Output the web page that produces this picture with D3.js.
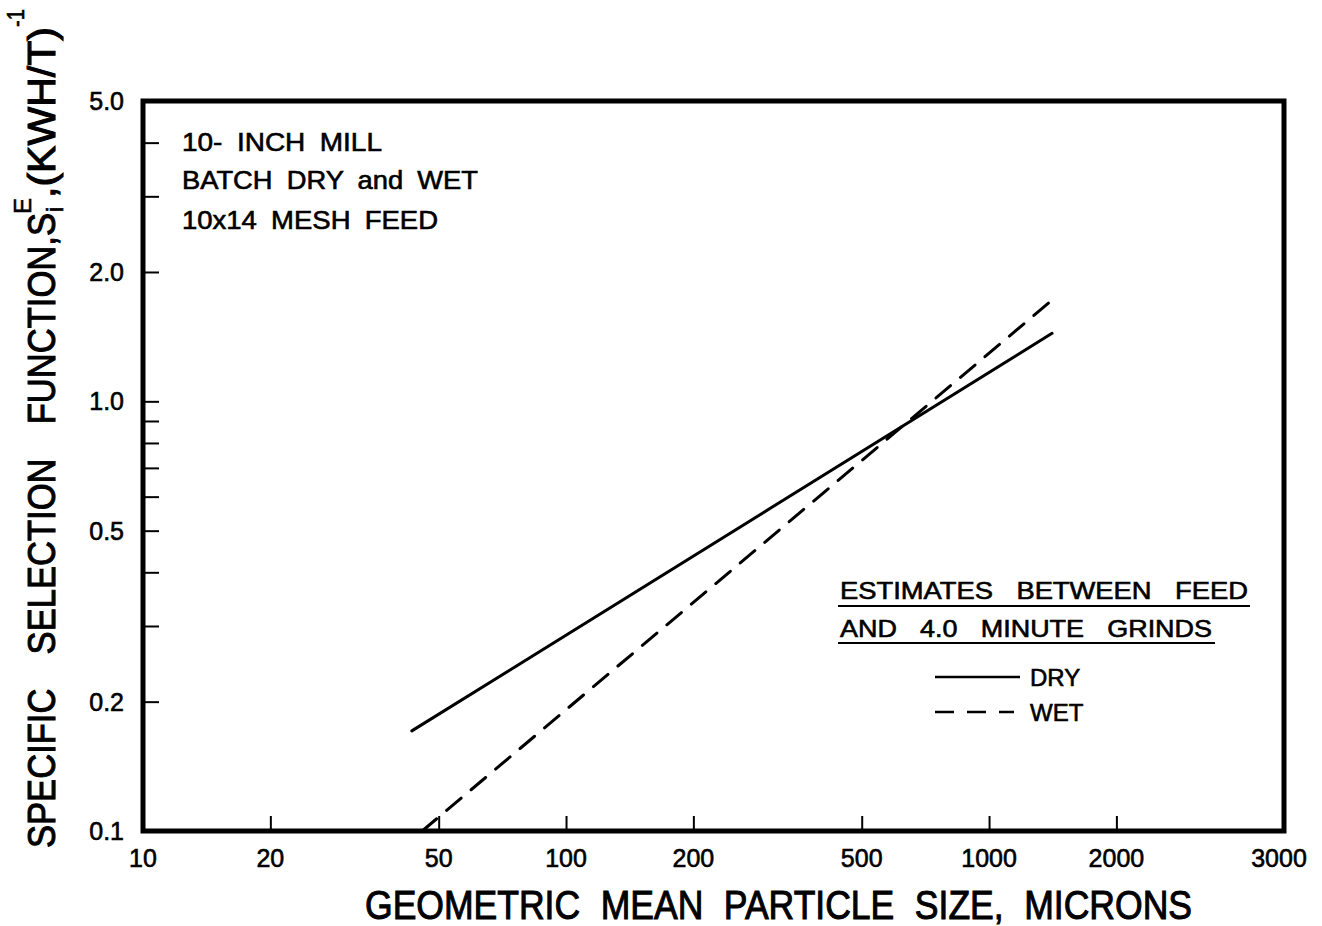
<!DOCTYPE html>
<html>
<head>
<meta charset="utf-8">
<script src="https://cdn.jsdelivr.net/npm/d3@7"></script>
<style>
  html, body { margin: 0; padding: 0; background: #fff; }
  svg { display: block; }
  text { font-family: "Liberation Sans", Arial, sans-serif; fill: #000; stroke: #000; stroke-width: 0.6; }
  text.big { stroke-width: 1; }
</style>
</head>
<body>
<svg id="chart" width="1322" height="926"></svg>
<script>
// ---------- data ----------
const xTickValues = [10, 20, 50, 100, 200, 500, 1000, 2000];
const xEndLabel = "3000";
const yTickValues = [0.1, 0.2, 0.5, 1.0, 2.0, 5.0];
const yMinorTicks = [0.3, 0.4, 0.6, 0.7, 0.8, 0.9, 3, 4];
const drySize = [43.2, 1409];
const dryS = [0.171, 1.44];
const wetSize = [45.7, 1409];
const wetS = [0.1, 1.72];
const noteLines = ["10- INCH MILL", "BATCH DRY and WET", "10x14 MESH FEED"];
const legendTitle = ["ESTIMATES BETWEEN FEED", "AND 4.0 MINUTE GRINDS"];
const seriesNames = ["DRY", "WET"];

// ---------- layout ----------
const L = 143, R = 1284, T = 101, B = 831;
const svg = d3.select("#chart");
const x = d3.scaleLog().domain([10, 4980]).range([L, R]);
const y = d3.scaleLog().domain([0.1, 5.0]).range([B, T]);

// frame
svg.append("rect").attr("x", L).attr("y", T).attr("width", R - L).attr("height", B - T)
  .attr("fill", "none").attr("stroke", "#000").attr("stroke-width", 5);

// x ticks (inward)
const xAxis = d3.axisTop(x).tickValues(xTickValues.filter(v => v > 10)).tickSize(15).tickFormat("");
svg.append("g").attr("transform", `translate(0,${B})`).call(xAxis)
  .call(g => g.select(".domain").remove())
  .call(g => g.selectAll("line").attr("stroke", "#000").attr("stroke-width", 2));

// x tick labels
svg.append("g").selectAll("text").data(xTickValues).join("text")
  .attr("x", d => x(d)).attr("y", 867).attr("text-anchor", "middle")
  .attr("font-size", 25).text(d => String(d));
svg.append("text").attr("x", x.range()[1] - 5).attr("y", 867).attr("text-anchor", "middle")
  .attr("font-size", 25).text(xEndLabel);

// y ticks (inward)
const yAxis = d3.axisRight(y).tickValues(yTickValues.concat(yMinorTicks).filter(v => v > 0.1 && v < 5)).tickSize(16).tickFormat("");
svg.append("g").attr("transform", `translate(${L},0)`).call(yAxis)
  .call(g => g.select(".domain").remove())
  .call(g => g.selectAll("line").attr("stroke", "#000").attr("stroke-width", 2));

// y tick labels
svg.append("g").selectAll("text").data(yTickValues).join("text")
  .attr("x", 124).attr("y", d => y(d) + 9).attr("text-anchor", "end")
  .attr("font-size", 25).text(d => d.toFixed(1));

// lines
const line = d3.line().x(d => x(d[0])).y(d => y(d[1]));
svg.append("path").datum(d3.zip(drySize, dryS)).attr("d", line)
  .attr("fill", "none").attr("stroke", "#000").attr("stroke-width", 3).attr("stroke-linecap", "round");
svg.append("path").datum(d3.zip(wetSize, wetS)).attr("d", line)
  .attr("fill", "none").attr("stroke", "#000").attr("stroke-width", 3)
  .attr("stroke-dasharray", "19,13").attr("stroke-linecap", "round");

// x title
svg.append("text").attr("class", "big").attr("x", 365).attr("y", 919).attr("font-size", 40)
  .attr("word-spacing", 12).attr("textLength", 827).attr("lengthAdjust", "spacingAndGlyphs")
  .text("GEOMETRIC MEAN PARTICLE SIZE, MICRONS");

// y title (rotated)
const yt = svg.append("g").attr("transform", "rotate(-90)");
yt.append("text").attr("class", "big").attr("x", -848).attr("y", 55).attr("font-size", 38)
  .attr("word-spacing", 27).attr("textLength", 635).attr("lengthAdjust", "spacingAndGlyphs")
  .text("SPECIFIC SELECTION FUNCTION,S");
yt.append("text").attr("x", -212).attr("y", 63).attr("font-size", 24).text("i");
yt.append("text").attr("x", -214).attr("y", 31).attr("font-size", 24).text("E");
yt.append("text").attr("class", "big").attr("x", -198).attr("y", 55).attr("font-size", 38)
  .attr("textLength", 171).attr("lengthAdjust", "spacingAndGlyphs").text(",(KWH/T)");
yt.append("text").attr("x", -27).attr("y", 24).attr("font-size", 24)
  .attr("textLength", 18).attr("lengthAdjust", "spacingAndGlyphs").text("-1");

// notes top-left
const noteLen = [200, 296, 256];
const noteBase = [151, 189, 229];
svg.append("g").selectAll("text").data(noteLines).join("text")
  .attr("x", 182).attr("y", (d, i) => noteBase[i]).attr("font-size", 25)
  .attr("word-spacing", 6)
  .attr("textLength", (d, i) => noteLen[i]).attr("lengthAdjust", "spacingAndGlyphs")
  .text(d => d);

// legend
const lgLen = [408, 372];
const lgBase = [599, 637];
svg.append("g").selectAll("text").data(legendTitle).join("text")
  .attr("x", 840).attr("y", (d, i) => lgBase[i]).attr("font-size", 24)
  .attr("word-spacing", 14)
  .attr("textLength", (d, i) => lgLen[i]).attr("lengthAdjust", "spacingAndGlyphs")
  .text(d => d);
const ulEnd = [1250, 1215];
const ulY = [606, 643];
svg.append("g").selectAll("line").data(ulEnd).join("line")
  .attr("x1", 838).attr("x2", d => d).attr("y1", (d, i) => ulY[i]).attr("y2", (d, i) => ulY[i])
  .attr("stroke", "#000").attr("stroke-width", 2);

const keyY = [677, 712];
svg.append("line").attr("x1", 935).attr("x2", 1020).attr("y1", keyY[0]).attr("y2", keyY[0])
  .attr("stroke", "#000").attr("stroke-width", 2.5);
svg.append("line").attr("x1", 935).attr("x2", 1014).attr("y1", keyY[1]).attr("y2", keyY[1])
  .attr("stroke", "#000").attr("stroke-width", 2.5).attr("stroke-dasharray", "19,13");
svg.append("g").selectAll("text").data(seriesNames).join("text")
  .attr("x", 1030).attr("y", (d, i) => keyY[i] + 9).attr("font-size", 24).text(d => d);
</script>
</body>
</html>
